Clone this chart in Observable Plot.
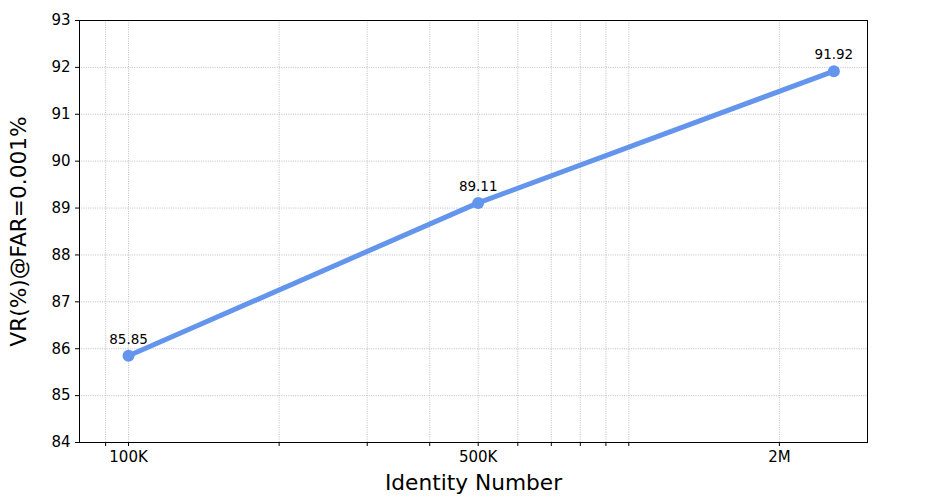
<!DOCTYPE html>
<html>
<head>
<meta charset="utf-8">
<script src="https://cdn.jsdelivr.net/npm/d3@7"></script>
<script src="https://cdn.jsdelivr.net/npm/@observablehq/plot@0.6"></script>
<style>
  html, body { margin: 0; padding: 0; background: #fff; }
  svg { font-family: "DejaVu Sans", sans-serif; }
</style>
</head>
<body>
<div id="chart"></div>
<script>
const identities = [1e5, 5e5, 2.57e6];
const vr = [85.85, 89.11, 91.92];
const vrLabels = ["85.85", "89.11", "91.92"];
const xMajorTicks = [1e5, 5e5, 2e6];
const xMajorLabels = ["100K", "500K", "2M"];
const xMinorTicks = [9e4, 2e5, 3e5, 4e5, 6e5, 7e5, 8e5, 9e5, 1e6];
const yTicks = [84, 85, 86, 87, 88, 89, 90, 91, 92, 93];
const xTitle = "Identity Number";
const yTitle = "VR(%)@FAR=0.001%";

const data = identities.map((x, i) => ({x, y: vr[i], label: vrLabels[i]}));
const gridX = xMajorTicks.concat(xMinorTicks);

const chart = Plot.plot({
  width: 947,
  height: 501,
  marginLeft: 79,
  marginRight: 80,
  marginTop: 20,
  marginBottom: 59,
  x: {type: "log", domain: [7.98e4, 3e6]},
  y: {domain: [84, 93]},
  marks: [
    Plot.gridX(gridX, {stroke: "#b0b0b0", strokeOpacity: 1, strokeWidth: 0.8, strokeDasharray: "1,1.3"}),
    Plot.gridY(yTicks, {stroke: "#b0b0b0", strokeOpacity: 1, strokeWidth: 0.8, strokeDasharray: "1,1.3"}),
    Plot.axisX(xMajorTicks, {tickFormat: (d) => xMajorLabels[xMajorTicks.indexOf(d)], tickSize: 4, tickPadding: 5, fontSize: 15, label: null, stroke: "#000", color: "#000"}),
    Plot.axisX(xMinorTicks, {tickFormat: () => "", tickSize: 4, label: null, stroke: "#000"}),
    Plot.axisY(yTicks, {tickSize: 4, tickPadding: 5, fontSize: 15, label: null, stroke: "#000", color: "#000"}),
    Plot.frame({stroke: "#000", strokeWidth: 1}),
    Plot.line(data, {x: "x", y: "y", stroke: "#6495ED", strokeWidth: 5}),
    Plot.dot(data, {x: "x", y: "y", r: 6, fill: "#6495ED"}),
    Plot.text(data, {x: "x", y: "y", text: "label", dy: -12, lineAnchor: "bottom", fontSize: 13.5, fill: "#000"}),
    Plot.text([xTitle], {frameAnchor: "bottom", dy: 47.5, fontSize: 21.7, fill: "#000"}),
    Plot.text([yTitle], {frameAnchor: "left", textAnchor: "middle", dx: -60, rotate: -90, fontSize: 21.7, fill: "#000"})
  ]
});
document.getElementById("chart").appendChild(chart);
</script>
</body>
</html>
